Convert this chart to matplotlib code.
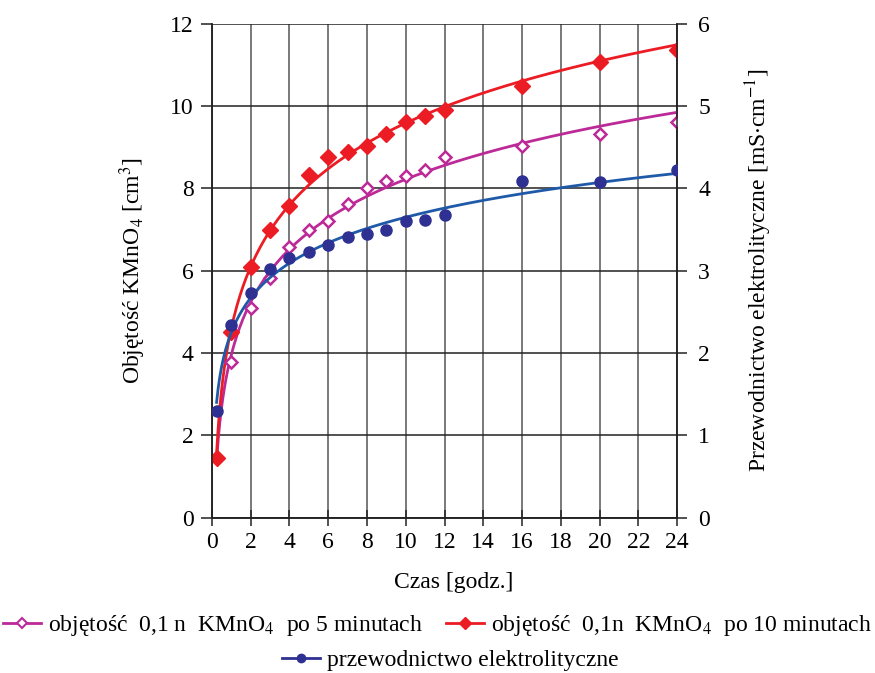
import numpy as np
import matplotlib
matplotlib.use("Agg")
import matplotlib.pyplot as plt
from matplotlib.lines import Line2D

plt.rcParams["font.family"] = ["Liberation Serif", "DejaVu Serif"]
plt.rcParams["mathtext.fontset"] = "stix"

# Data
hours = [0.25, 1, 2, 3, 4, 5, 6, 7, 8, 9, 10, 11, 12, 16, 20, 24]
vol_5min = [1.45, 3.79, 5.09, 5.83, 6.57, 7.0, 7.21, 7.61, 8.02, 8.19, 8.31, 8.45, 8.75, 9.04, 9.33, 9.62]
vol_10min = [1.46, 4.51, 6.10, 7.0, 7.58, 8.32, 8.76, 8.89, 9.04, 9.31, 9.61, 9.76, 9.90, 10.49, 11.08, 11.36]
conductivity = [1.30, 2.34, 2.73, 3.02, 3.16, 3.23, 3.31, 3.41, 3.44, 3.49, 3.60, 3.62, 3.68, 4.09, 4.08, 4.22]

c_mag = "#bc2a98"
c_red = "#ec1c24"
c_navy = "#2e3192"
c_blue = "#1f5aa8"

x = np.array(hours)


# logarithmic trend lines (as in the original spreadsheet chart)
def log_trend(y):
    a, b = np.polyfit(np.log(x), np.array(y), 1)
    xs = np.linspace(x.min(), x.max(), 300)
    return xs, a * np.log(xs) + b


fig = plt.figure(figsize=(8.75, 6.73), dpi=100)
ax1 = fig.add_axes([0.242, 0.2308, 0.532, 0.734])
ax2 = ax1.twinx()

# trend lines
xs, ys = log_trend(vol_5min)
ax1.plot(xs, ys, color=c_mag, lw=2, zorder=3)
xs, ys = log_trend(vol_10min)
ax1.plot(xs, ys, color=c_red, lw=2, zorder=3)
xs, ys = log_trend(conductivity)
ax2.plot(xs, ys, color=c_blue, lw=2, zorder=3)

# points
ax1.plot(hours, vol_5min, ls="none", marker="D", ms=6, mfc="white", mec=c_mag, mew=1.8, zorder=4)
ax1.plot(hours, vol_10min, ls="none", marker="D", ms=8, color=c_red, zorder=5)
ax2.plot(hours, conductivity, ls="none", marker="o", ms=8, color=c_navy, zorder=4)

ax1.set_xlim(0, 24)
ax1.set_ylim(0, 12)
ax2.set_ylim(0, 6)
ax1.set_xticks(np.arange(0, 25, 2))
ax1.set_yticks(np.arange(0, 13, 2))
ax2.set_yticks(np.arange(0, 7, 1))

ax1.grid(True, axis="x", color="#555555", lw=1.1)
ax1.grid(True, axis="y", color="#222222", lw=1.1)
ax1.set_axisbelow(True)
ax2.set_zorder(ax1.get_zorder() + 1)
ax2.patch.set_visible(False)

for ax in (ax1, ax2):
    for s in ax.spines.values():
        s.set_color("#222222")
        s.set_linewidth(1.1)
    ax.spines["top"].set_visible(False)
ax1.tick_params(axis="x", direction="inout", length=12, width=1.1, labelsize=17, pad=4, color="#222222")
ax1.tick_params(axis="y", direction="out", length=8, width=1.1, labelsize=17, pad=5, color="#222222")
ax2.tick_params(axis="y", direction="out", length=7, width=1.1, labelsize=17, pad=8, color="#222222")

ax1.set_xlabel("Czas [godz.]", fontsize=17, labelpad=14)
ax1.xaxis.set_label_coords(0.52, -0.11)
ax1.set_ylabel("Objętość KMnO$_4$ [cm$^3$]", fontsize=17, labelpad=16)
ax2.set_ylabel("Przewodnictwo elektrolityczne [mS$\\cdot$cm$^{-1}$]", fontsize=17, labelpad=24)

# legend below the chart
h_mag = Line2D([], [], color=c_mag, lw=2, marker="D", ms=5, mfc="white", mec=c_mag, mew=1.5)
h_red = Line2D([], [], color=c_red, lw=2, marker="D", ms=6.5)
h_blue = Line2D([], [], color=c_navy, lw=2, marker="o", ms=6)
fig.legend([h_mag, h_red],
           ["objętość  0,1 n  KMnO$_4$  po 5 minutach",
            "objętość  0,1n  KMnO$_4$  po 10 minutach"],
           loc="center", bbox_to_anchor=(0.5, 0.07), ncol=2, frameon=False,
           fontsize=17, handlelength=1.6, handletextpad=0.3, columnspacing=1.0,
           borderpad=0, borderaxespad=0)
fig.legend([h_blue], ["przewodnictwo elektrolityczne"],
           loc="center", bbox_to_anchor=(0.515, 0.019), frameon=False,
           fontsize=17, handlelength=1.6, handletextpad=0.3,
           borderpad=0, borderaxespad=0)

fig.savefig("out.png", dpi=100)
